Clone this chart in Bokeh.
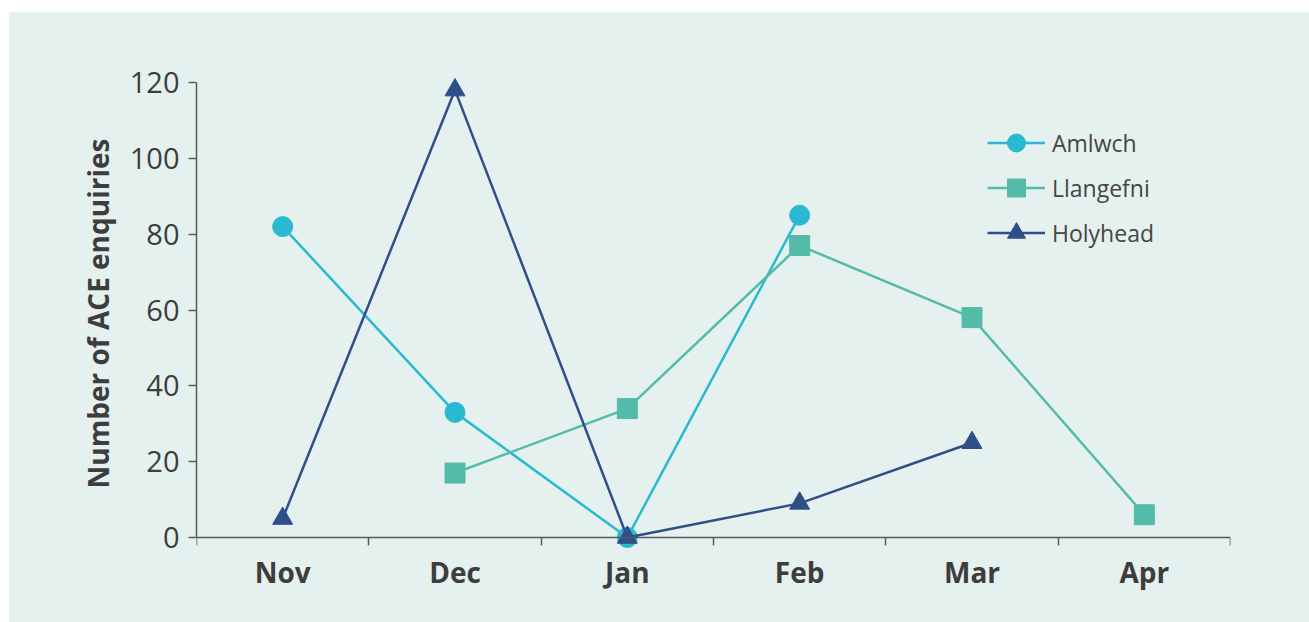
from bokeh.plotting import figure
from bokeh.models import (ColumnDataSource, Range1d, LinearAxis, FixedTicker, Legend, LegendItem)
from bokeh.embed import file_html
from bokeh.resources import INLINE

nan = float("nan")
months = ["Nov", "Dec", "Jan", "Feb", "Mar", "Apr"]
amlwch = [82, 33, 0, 85, nan, nan]
llangefni = [nan, 17, 34, 77, 58, 6]
holyhead = [5, 118, 0, 9, 25, nan]
y_ticks = [0, 20, 40, 60, 80, 100, 120]
series_names = ["Amlwch", "Llangefni", "Holyhead"]
series_colors = ["#29B9D1", "#55BBA9", "#2E4F88"]
series_markers = ["circle", "square", "triangle"]

BG = "#E5F1EE"
TXT = "#3D3D3D"
AX = "#5A5A5A"
FONT = "Open Sans"

# category slots: each month occupies one unit, centred at i + 0.5
centers = [i + 0.5 for i in range(len(months))]
edges = list(range(len(months) + 1))

# frame geometry (pixels)
frame_h = 478
px_per_unit = (537 - 82) / 120.0
y0_from_bottom = 15
y_start = -y0_from_bottom / px_per_unit
y_end = y_start + frame_h / px_per_unit

p = figure(x_range=Range1d(0, len(months)), y_range=Range1d(y_start, y_end),
           frame_width=1034, frame_height=frame_h,
           min_border_left=188, min_border_top=63, min_border_right=79, min_border_bottom=70,
           output_backend="svg", toolbar_location=None,
           background_fill_color=BG, border_fill_color=BG, outline_line_color=None,
           x_axis_type=None, y_axis_type=None)
p.margin = (11, 0, 0, 8)
p.xgrid.visible = False
p.ygrid.visible = False

# y axis
yax = LinearAxis(ticker=FixedTicker(ticks=y_ticks), bounds=(0, 120))
yax.axis_label = "Number of ACE enquiries"
yax.axis_label_text_font = FONT
yax.axis_label_text_font_style = "bold"
yax.axis_label_text_font_size = "28px"
yax.axis_label_text_color = TXT
yax.axis_label_standoff = 10
yax.major_label_text_font = FONT
yax.major_label_text_font_size = "29px"
yax.major_label_text_color = TXT
yax.major_label_standoff = 9
yax.major_tick_out = 8
yax.major_tick_in = 0
yax.minor_tick_out = 0
yax.minor_tick_in = 0
yax.axis_line_color = AX
yax.major_tick_line_color = AX
yax.axis_line_width = 1.5
yax.major_tick_line_width = 1.5
p.add_layout(yax, "left")

# x axis: month labels at slot centres (sits just under the frame)
cat_ax = LinearAxis(ticker=FixedTicker(ticks=centers),
                    major_label_overrides={c: m for c, m in zip(centers, months)})
cat_ax.axis_line_color = None
cat_ax.major_tick_line_color = None
cat_ax.minor_tick_line_color = None
cat_ax.major_tick_out = 0
cat_ax.major_tick_in = 0
cat_ax.minor_tick_out = 0
cat_ax.minor_tick_in = 0
cat_ax.major_label_text_font = FONT
cat_ax.major_label_text_font_style = "bold"
cat_ax.major_label_text_font_size = "28px"
cat_ax.major_label_text_color = TXT
cat_ax.major_label_standoff = 0
p.add_layout(cat_ax, "below")

# x axis line at y = 0 with ticks on slot boundaries (minor ticks, no labels)
edge_ax = LinearAxis(ticker=FixedTicker(ticks=[], minor_ticks=edges), fixed_location=0)
edge_ax.major_tick_out = 0
edge_ax.major_tick_in = 0
edge_ax.minor_tick_out = 8
edge_ax.minor_tick_in = 0
edge_ax.axis_line_color = AX
edge_ax.minor_tick_line_color = AX
edge_ax.axis_line_width = 1.5
edge_ax.minor_tick_line_width = 1.5
p.add_layout(edge_ax, "below")

source = ColumnDataSource(dict(x=centers, Amlwch=amlwch, Llangefni=llangefni, Holyhead=holyhead))

items = []
for name, color, marker in zip(series_names, series_colors, series_markers):
    ln = p.line("x", name, source=source, line_color=color, line_width=2.5)
    sc = p.scatter("x", name, source=source, marker=marker, size=20,
                   fill_color=color, line_color=color)
    items.append(LegendItem(label=name, renderers=[ln, sc]))

legend = Legend(items=items, location=(791, 297))
legend.background_fill_alpha = 0
legend.border_line_color = None
legend.padding = 0
legend.margin = 0
legend.spacing = 0
legend.glyph_width = 58
legend.glyph_height = 45
legend.label_height = 45
legend.label_standoff = 7
legend.label_text_font = FONT
legend.label_text_font_size = "23px"
legend.label_text_color = "#454545"
p.add_layout(legend, "center")

open("out.html", "w").write(file_html(p, INLINE))
